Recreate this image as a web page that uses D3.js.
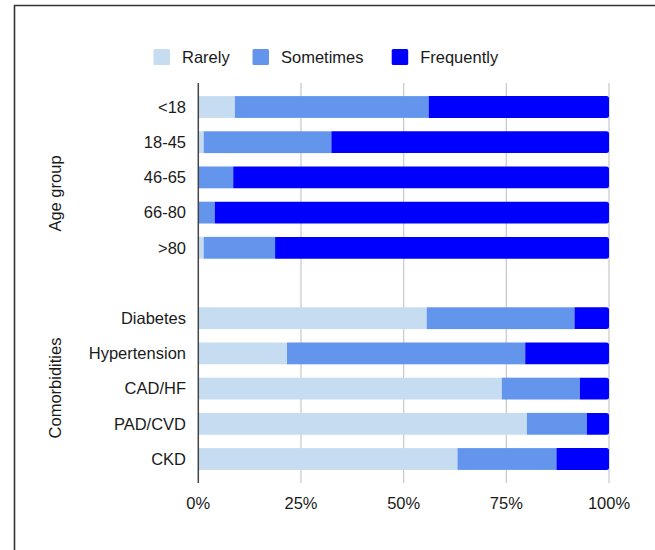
<!DOCTYPE html>
<html><head><meta charset="utf-8">
<script src="https://cdn.jsdelivr.net/npm/d3@7"></script>
<style>
body{margin:0;background:#fff;}
text{font-family:"Liberation Sans",Arial,Helvetica,sans-serif;}
</style></head>
<body>
<svg id="chart" width="655" height="550"></svg>
<script>
const categories = ["<18","18-45","46-65","66-80",">80","", "Diabetes","Hypertension","CAD/HF","PAD/CVD","CKD"];
const rarely     = [8.9, 1.3, 0,   0,   1.3, null, 55.6, 21.6, 73.9, 80.0, 63.1];
const sometimes  = [47.2,31.1,8.5, 4.0, 17.4,null, 36.0, 58.0, 19.0, 14.6, 24.1];
const frequently = [43.9,67.6,91.5,96.0,81.3,null, 8.4,  20.4, 7.1,  5.4,  12.8];
const seriesNames = ["Rarely","Sometimes","Frequently"];
const groupTitles = ["Age group","Comorbidities"];
const xTicks = [0,0.25,0.5,0.75,1];

const colors = ["#c6dcf1","#6495ed","#0000ff"];
const svg = d3.select("#chart");

// frame
svg.append("path").attr("d","M14.5,550 L14.5,5.5 L655,5.5")
  .attr("fill","none").attr("stroke","#333").attr("stroke-width",1.6);

const keys = categories.map((c,i)=>"k"+i);
const x = d3.scaleLinear().domain([0,1]).range([198.3,609]);
const y = d3.scaleBand().domain(keys).range([89.4,476.6]).paddingInner(0.38).paddingOuter(0.19);

// gridlines
svg.append("g").selectAll("line").data(xTicks.slice(1)).join("line")
  .attr("x1",d=>x(d)).attr("x2",d=>x(d)).attr("y1",83).attr("y2",483)
  .attr("stroke","#cccccc").attr("stroke-width",1.3);

// data rows
const rows = categories.map((c,i)=>({key:keys[i],label:c,Rarely:rarely[i],Sometimes:sometimes[i],Frequently:frequently[i]}))
  .filter(d=>d.Rarely!==null);
rows.forEach(d=>{const t=d.Rarely+d.Sometimes+d.Frequently; seriesNames.forEach(s=>d[s]=d[s]/t);});
const stack = d3.stack().keys(seriesNames)(rows);

const bh = y.bandwidth();
stack.forEach((layer,li)=>{
  const g = svg.append("g");
  layer.forEach(seg=>{
    const x0=x(seg[0]), x1=x(seg[1]), yy=y(seg.data.key);
    const w = x1-x0;
    if(w<=0.01) return;
    if(li===2){
      const r=2.5;
      g.append("path").attr("d",`M${x0},${yy} H${x1-r} Q${x1},${yy} ${x1},${yy+r} V${yy+bh-r} Q${x1},${yy+bh} ${x1-r},${yy+bh} H${x0} Z`)
        .attr("fill",colors[li]);
    } else {
      g.append("rect").attr("x",x0).attr("y",yy).attr("width",w).attr("height",bh).attr("fill",colors[li]);
    }
  });
});

// zero axis line
svg.append("line").attr("x1",x(0)).attr("x2",x(0)).attr("y1",83).attr("y2",483)
  .attr("stroke","#444").attr("stroke-width",1.5);

// y labels
svg.append("g").selectAll("text").data(rows).join("text")
  .attr("x",186).attr("y",d=>y(d.key)+bh/2).attr("dy","0.35em")
  .attr("text-anchor","end").attr("font-size",16.5).attr("fill","#1a1a1a")
  .text(d=>d.label);

// x tick labels
svg.append("g").selectAll("text").data(xTicks).join("text")
  .attr("x",d=>x(d)).attr("y",503).attr("dy","0.35em")
  .attr("text-anchor","middle").attr("font-size",16.5).attr("fill","#1a1a1a")
  .text(d3.format(".0%"));

// group titles
const titleY = [193.5, 388];
groupTitles.forEach((t,i)=>{
  svg.append("text").attr("transform",`translate(55,${titleY[i]}) rotate(-90)`)
    .attr("dy","0.35em").attr("text-anchor","middle").attr("font-size",16.5).attr("fill","#1a1a1a").text(t);
});

// legend
const legX = [153.5,252.5,391.7];
const lg = svg.append("g");
seriesNames.forEach((s,i)=>{
  lg.append("rect").attr("x",legX[i]).attr("y",49).attr("width",16.5).attr("height",16).attr("rx",1.5).attr("fill",colors[i]);
  lg.append("text").attr("x",legX[i]+28.5).attr("y",57).attr("dy","0.35em")
    .attr("font-size",16.5).attr("fill","#1a1a1a").text(s);
});
</script>
</body></html>
